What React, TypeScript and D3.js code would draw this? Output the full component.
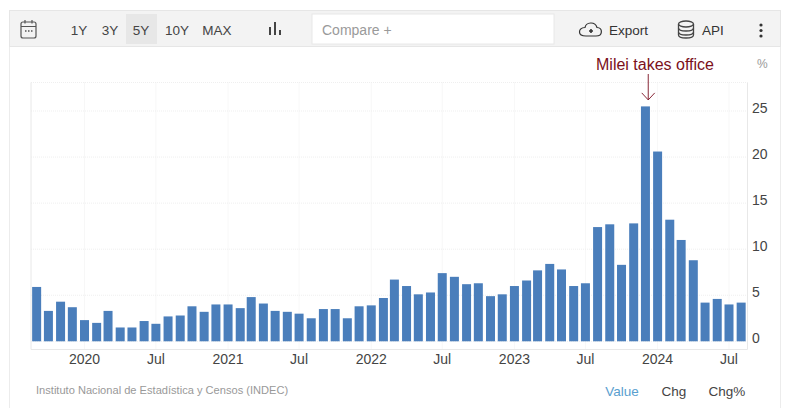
import { scaleLinear, scaleTime, timeFormat } from "d3"

const WIDTH = 792
const HEIGHT = 408
const FONT = "'Liberation Sans', Arial, sans-serif"

// monthly inflation, Sep 2019 -> Aug 2024
const START_YEAR = 2019
const START_MONTH = 8
const values = [
  5.9, 3.3, 4.3, 3.7, 2.3, 2.0, 3.3, 1.5, 1.5, 2.2, 1.9, 2.7,
  2.8, 3.8, 3.2, 4.0, 4.0, 3.6, 4.8, 4.1, 3.3, 3.2, 3.0, 2.5,
  3.5, 3.5, 2.5, 3.8, 3.9, 4.7, 6.7, 6.0, 5.1, 5.3, 7.4, 7.0,
  6.2, 6.3, 4.9, 5.1, 6.0, 6.6, 7.7, 8.4, 7.8, 6.0, 6.3, 12.4,
  12.7, 8.3, 12.8, 25.5, 20.6, 13.2, 11.0, 8.8, 4.2, 4.6, 4.0, 4.2,
]

const yTicks = [0, 5, 10, 15, 20, 25]
const xTicks = [
  new Date(2020, 0, 1),
  new Date(2020, 6, 1),
  new Date(2021, 0, 1),
  new Date(2021, 6, 1),
  new Date(2022, 0, 1),
  new Date(2022, 6, 1),
  new Date(2023, 0, 1),
  new Date(2023, 6, 1),
  new Date(2024, 0, 1),
  new Date(2024, 6, 1),
]
const ranges = ["1Y", "3Y", "5Y", "10Y", "MAX"]
const rangeX = [79, 110, 141, 177, 217]
const modes = ["Value", "Chg", "Chg%"]
const modeX = [622, 674, 727]

const months = values.map((_, i) => new Date(START_YEAR, START_MONTH + i, 1))

const PLOT = { left: 31, right: 747.5, top: 82.5, bottom: 349.5 }
const BAR_WIDTH = 9

// anchored on the Jan 2020 and Jul 2024 gridlines
const x = scaleTime()
  .domain([new Date(2020, 0, 1), new Date(2024, 6, 1)])
  .range([84.5, 729])
const y = scaleLinear().domain([0, 25]).range([341.3, 111])

const fmtMonth = timeFormat("%b")
const fmtYear = timeFormat("%Y")
const tickLabel = (d: Date) => (d.getMonth() === 0 ? fmtYear(d) : fmtMonth(d))

const peak = values.indexOf(Math.max(...values))

export default function App() {
  const arrowX = x(months[peak]) + 2.8
  const arrowTip = y(values[peak]) - 6.5

  return (
    <svg
      width={WIDTH}
      height={HEIGHT}
      viewBox={`0 0 ${WIDTH} ${HEIGHT}`}
      fontFamily={FONT}
      style={{ position: "absolute", left: 0, top: 0, background: "#fff" }}
    >
      {/* outer frame */}
      <path d="M9.5 408V10.5H780.5V408" fill="none" stroke="#ececec" />

      {/* toolbar */}
      <rect x={9.5} y={10.5} width={771} height={36} fill="#f3f3f3" stroke="#e6e6e6" />
      <rect x={126} y={14} width={31} height={30} fill="#e7e7e7" />
      {ranges.map((r, i) => (
        <text key={r} x={rangeX[i]} y={35} textAnchor="middle" fontSize={13.5} fill="#444">
          {r}
        </text>
      ))}
      <rect x={312} y={14} width={242} height={30} fill="#fff" stroke="#e8e8e8" />
      <text x={322} y={34.5} fontSize={14} fill="#9a9a9a">
        Compare +
      </text>

      {/* calendar icon */}
      <g fill="none" stroke="#555" strokeWidth={1.2}>
        <rect x={21} y={22} width={15} height={16} rx={2} />
        <path d="M21 26.5H36M25 20V23.5M32 20V23.5" />
        <path d="M25 31H26.5M28 31H29.5M31 31H32.5" strokeWidth={1.4} />
      </g>
      {/* chart type icon */}
      <g stroke="#444" strokeWidth={2}>
        <path d="M270 35V27M275 35V22M280 35V30" />
      </g>
      {/* export icon */}
      <g fill="none" stroke="#333" strokeWidth={1.2}>
        <path d="M586 36H596C603 36 603 28 597 27.5C595 21 586 22 585 27.5C578 28 577 36 586 36Z" />
        <path d="M589 31H593M591 29V33" strokeWidth={1.6} />
      </g>
      <text x={609} y={35} fontSize={13.5} fill="#333">
        Export
      </text>
      {/* database icon */}
      <g fill="none" stroke="#444" strokeWidth={1.3}>
        <ellipse cx={686} cy={24} rx={7.5} ry={3} />
        <path d="M678.5 24V35C678.5 39 693.5 39 693.5 35V24" />
        <path d="M678.5 28C678.5 32 693.5 32 693.5 28M678.5 32C678.5 36 693.5 36 693.5 32" />
      </g>
      <text x={702} y={35} fontSize={13.5} fill="#333">
        API
      </text>
      <g fill="#333">
        <circle cx={761} cy={25} r={1.6} />
        <circle cx={761} cy={30.5} r={1.6} />
        <circle cx={761} cy={36} r={1.6} />
      </g>

      {/* grid */}
      <g stroke="#efefef" strokeDasharray="1 1" fill="none">
        <path d={`M${PLOT.left} ${PLOT.top}H${PLOT.right}`} />
        {yTicks.map((t) => (
          <line key={t} x1={PLOT.left} x2={PLOT.right} y1={y(t)} y2={y(t)} />
        ))}
        {xTicks.map((t) => (
          <line key={+t} x1={x(t)} x2={x(t)} y1={PLOT.top} y2={PLOT.bottom} />
        ))}
      </g>
      <path
        d={`M${PLOT.left} ${PLOT.top}V${PLOT.bottom}H${PLOT.right}V${PLOT.top}`}
        fill="none"
        stroke="#e8e8e8"
      />

      {/* bars */}
      {values.map((v, i) => (
        <rect
          key={i}
          x={x(months[i]) - BAR_WIDTH / 2}
          y={y(v)}
          width={BAR_WIDTH}
          height={y(0) - y(v)}
          fill="#4a7ebb"
        />
      ))}

      {/* axes */}
      {yTicks.map((t) => (
        <text key={t} x={752} y={y(t) + 2} fontSize={14} fill="#444">
          {t}
        </text>
      ))}
      <text x={757} y={68} fontSize={12} fill="#999">
        %
      </text>
      {xTicks.map((t) => (
        <text key={+t} x={x(t)} y={364} textAnchor="middle" fontSize={14} fill="#444">
          {tickLabel(t)}
        </text>
      ))}

      {/* annotation */}
      <text x={596} y={70} fontSize={16} fill="#7b1020">
        Milei takes office
      </text>
      <g fill="none" stroke="#7b1020" strokeWidth={0.9}>
        <line x1={arrowX} x2={arrowX} y1={74} y2={arrowTip} />
        <path
          d={`M${arrowX - 6.5} ${arrowTip - 7}L${arrowX} ${arrowTip}L${arrowX + 6.5} ${arrowTip - 7}`}
        />
      </g>

      {/* footer */}
      <text x={36} y={394} fontSize={11.1} fill="#999">
        Instituto Nacional de Estadística y Censos (INDEC)
      </text>
      {modes.map((m, i) => (
        <text
          key={m}
          x={modeX[i]}
          y={396}
          textAnchor="middle"
          fontSize={13.5}
          fill={i === 0 ? "#5aa0cf" : "#444"}
        >
          {m}
        </text>
      ))}
    </svg>
  )
}
